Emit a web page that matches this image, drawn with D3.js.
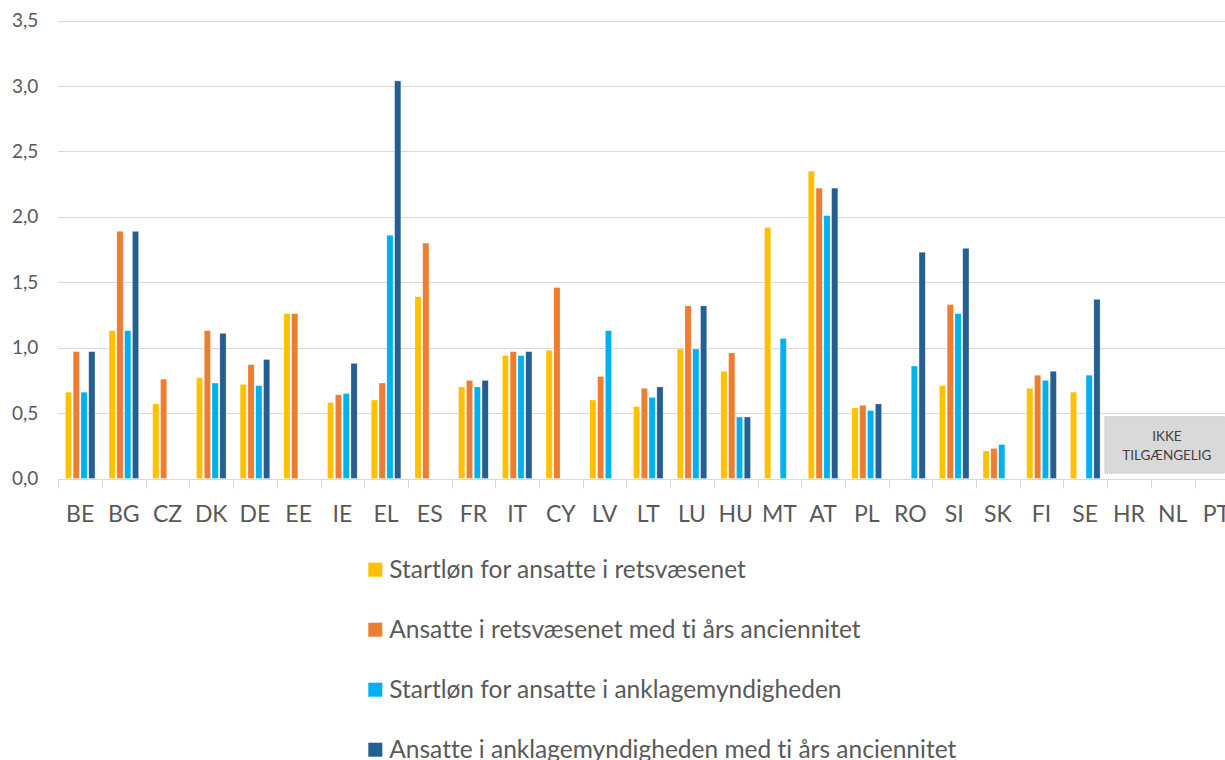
<!DOCTYPE html>
<html>
<head>
<meta charset="utf-8">
<script src="https://cdn.jsdelivr.net/npm/d3@7"></script>
<style>
  html, body { margin: 0; padding: 0; background: #fff; overflow: hidden; }
  svg { display: block; font-family: Lato, "Open Sans", sans-serif; font-variant-ligatures: none; }
</style>
</head>
<body>
<svg id="chart" width="1225" height="760"></svg>
<script>
// Member states shown on the category axis
const categories = ["BE","BG","CZ","DK","DE","EE","IE","EL","ES","FR","IT","CY","LV","LT","LU","HU","MT","AT","PL","RO","SI","SK","FI","SE","HR","NL","PT"];

// Series values (null = no value reported)
const judgesStart = [0.66,1.13,0.57,0.77,0.72,1.26,0.58,0.60,1.39,0.70,0.94,0.98,0.60,0.55,0.99,0.82,1.92,2.35,0.54,null,0.71,0.21,0.69,0.66,null,null,null];
const judgesTenYears = [0.97,1.89,0.76,1.13,0.87,1.26,0.64,0.73,1.80,0.75,0.97,1.46,0.78,0.69,1.32,0.96,null,2.22,0.56,null,1.33,0.23,0.79,null,null,null,null];
const prosecutorsStart = [0.66,1.13,null,0.73,0.71,null,0.65,1.86,null,0.70,0.94,null,1.13,0.62,0.99,0.47,1.07,2.01,0.52,0.86,1.26,0.26,0.75,0.79,null,null,null];
const prosecutorsTenYears = [0.97,1.89,null,1.11,0.91,null,0.88,3.04,null,0.75,0.97,null,null,0.70,1.32,0.47,null,2.22,0.57,1.73,1.76,null,0.82,1.37,null,null,null];

const seriesNames = [
  "Startløn for ansatte i retsvæsenet",
  "Ansatte i retsvæsenet med ti års anciennitet",
  "Startløn for ansatte i anklagemyndigheden",
  "Ansatte i anklagemyndigheden med ti års anciennitet"
];
const seriesColors = ["#FFC000", "#ED7D31", "#00B0F0", "#255E91"];
const yTicks = [0, 0.5, 1.0, 1.5, 2.0, 2.5, 3.0, 3.5];
const missingLabel = ["IKKE", "TILGÆNGELIG"];
const missingCategories = ["HR", "NL", "PT"];

const seriesValues = [judgesStart, judgesTenYears, prosecutorsStart, prosecutorsTenYears];

const svg = d3.select("#chart");
const textColor = "#595959";
const gridColor = "#D9D9D9";

// Scales: the category axis runs past the right edge of the page
const x0 = d3.scaleBand().domain(categories).range([58.3, 1238.2]).paddingInner(0).paddingOuter(0);
const x1 = d3.scaleBand().domain(d3.range(seriesNames.length)).range([0, x0.bandwidth()])
  .paddingInner(0.2).paddingOuter(0.9);
const y = d3.scaleLinear().domain([0, 3.5]).range([478.5, 20.7]);

const fmt = d3.format(".1f");
const fmtComma = v => fmt(v).replace(".", ",");

// Horizontal gridlines
svg.append("g")
  .selectAll("line")
  .data(yTicks.filter(t => t > 0))
  .join("line")
  .attr("x1", 58.3).attr("x2", 1225)
  .attr("y1", d => Math.round(y(d)) + 0.5).attr("y2", d => Math.round(y(d)) + 0.5)
  .attr("stroke", gridColor).attr("stroke-width", 1);

// Y axis labels
const yAxis = d3.axisLeft(y).tickValues(yTicks).tickFormat(fmtComma).tickSize(0).tickPadding(20);
const gy = svg.append("g").attr("transform", "translate(58.3,0)").call(yAxis);
gy.select(".domain").remove();
gy.selectAll("text")
  .attr("fill", textColor)
  .style("font-family", "Lato, sans-serif")
  .style("font-size", "19px");

// Bars
const groups = svg.append("g")
  .selectAll("g")
  .data(categories.map((c, i) => ({ c, vals: seriesValues.map((s, k) => ({ k, v: s[i] })) })))
  .join("g")
  .attr("transform", d => `translate(${x0(d.c)},0)`);

groups.selectAll("rect")
  .data(d => d.vals.filter(e => e.v != null))
  .join("rect")
  .attr("x", e => x1(e.k))
  .attr("width", x1.bandwidth())
  .attr("y", e => y(e.v))
  .attr("height", e => y(0) - y(e.v))
  .attr("fill", e => seriesColors[e.k])
  .attr("stroke", "#ffffff")
  .attr("stroke-opacity", 0.5)
  .attr("stroke-width", 0.6);

// Category axis with tick marks between categories
const baseY = Math.round(y(0)) + 0.5;
svg.append("line")
  .attr("x1", 58.3).attr("x2", 1225)
  .attr("y1", baseY).attr("y2", baseY)
  .attr("stroke", gridColor).attr("stroke-width", 1);

svg.append("g")
  .selectAll("line")
  .data(categories)
  .join("line")
  .attr("x1", d => Math.round(x0(d)) + 0.5).attr("x2", d => Math.round(x0(d)) + 0.5)
  .attr("y1", baseY).attr("y2", baseY + 9)
  .attr("stroke", gridColor).attr("stroke-width", 1);

svg.append("g")
  .selectAll("text")
  .data(categories)
  .join("text")
  .attr("x", d => x0(d) + x0.bandwidth() / 2)
  .attr("y", 521.5)
  .attr("text-anchor", "middle")
  .attr("fill", textColor)
  .style("font-size", "23px")
  .text(d => d);

// "Not available" box over the last categories
const boxLeft = x0(missingCategories[0]) - 2.3;
const boxRight = 1229;
const boxTop = y(0) - 62;
const boxBottom = y(0) - 5.2;
svg.append("rect")
  .attr("x", boxLeft).attr("y", boxTop)
  .attr("width", boxRight - boxLeft).attr("height", boxBottom - boxTop)
  .attr("fill", "#D9D9D9")
  .attr("stroke", "#BFBFBF")
  .attr("stroke-width", 1)
  .attr("stroke-dasharray", "1,1");

svg.append("g")
  .selectAll("text")
  .data(missingLabel)
  .join("text")
  .attr("x", (boxLeft + boxRight) / 2)
  .attr("y", (d, i) => 441 + i * 19)
  .attr("text-anchor", "middle")
  .attr("fill", "#404040")
  .style("font-size", "13.5px")
  .text(d => d);

// Legend, one entry per row
const legend = svg.append("g")
  .selectAll("g")
  .data(seriesNames)
  .join("g")
  .attr("transform", (d, i) => `translate(368.3,${562.7 + i * 60})`);

legend.append("rect")
  .attr("width", 14).attr("height", 14)
  .attr("fill", (d, i) => seriesColors[i]);

legend.append("text")
  .attr("x", 21)
  .attr("y", 15.3)
  .attr("fill", textColor)
  .style("font-size", "24.5px")
  .text(d => d);
</script>
</body>
</html>
